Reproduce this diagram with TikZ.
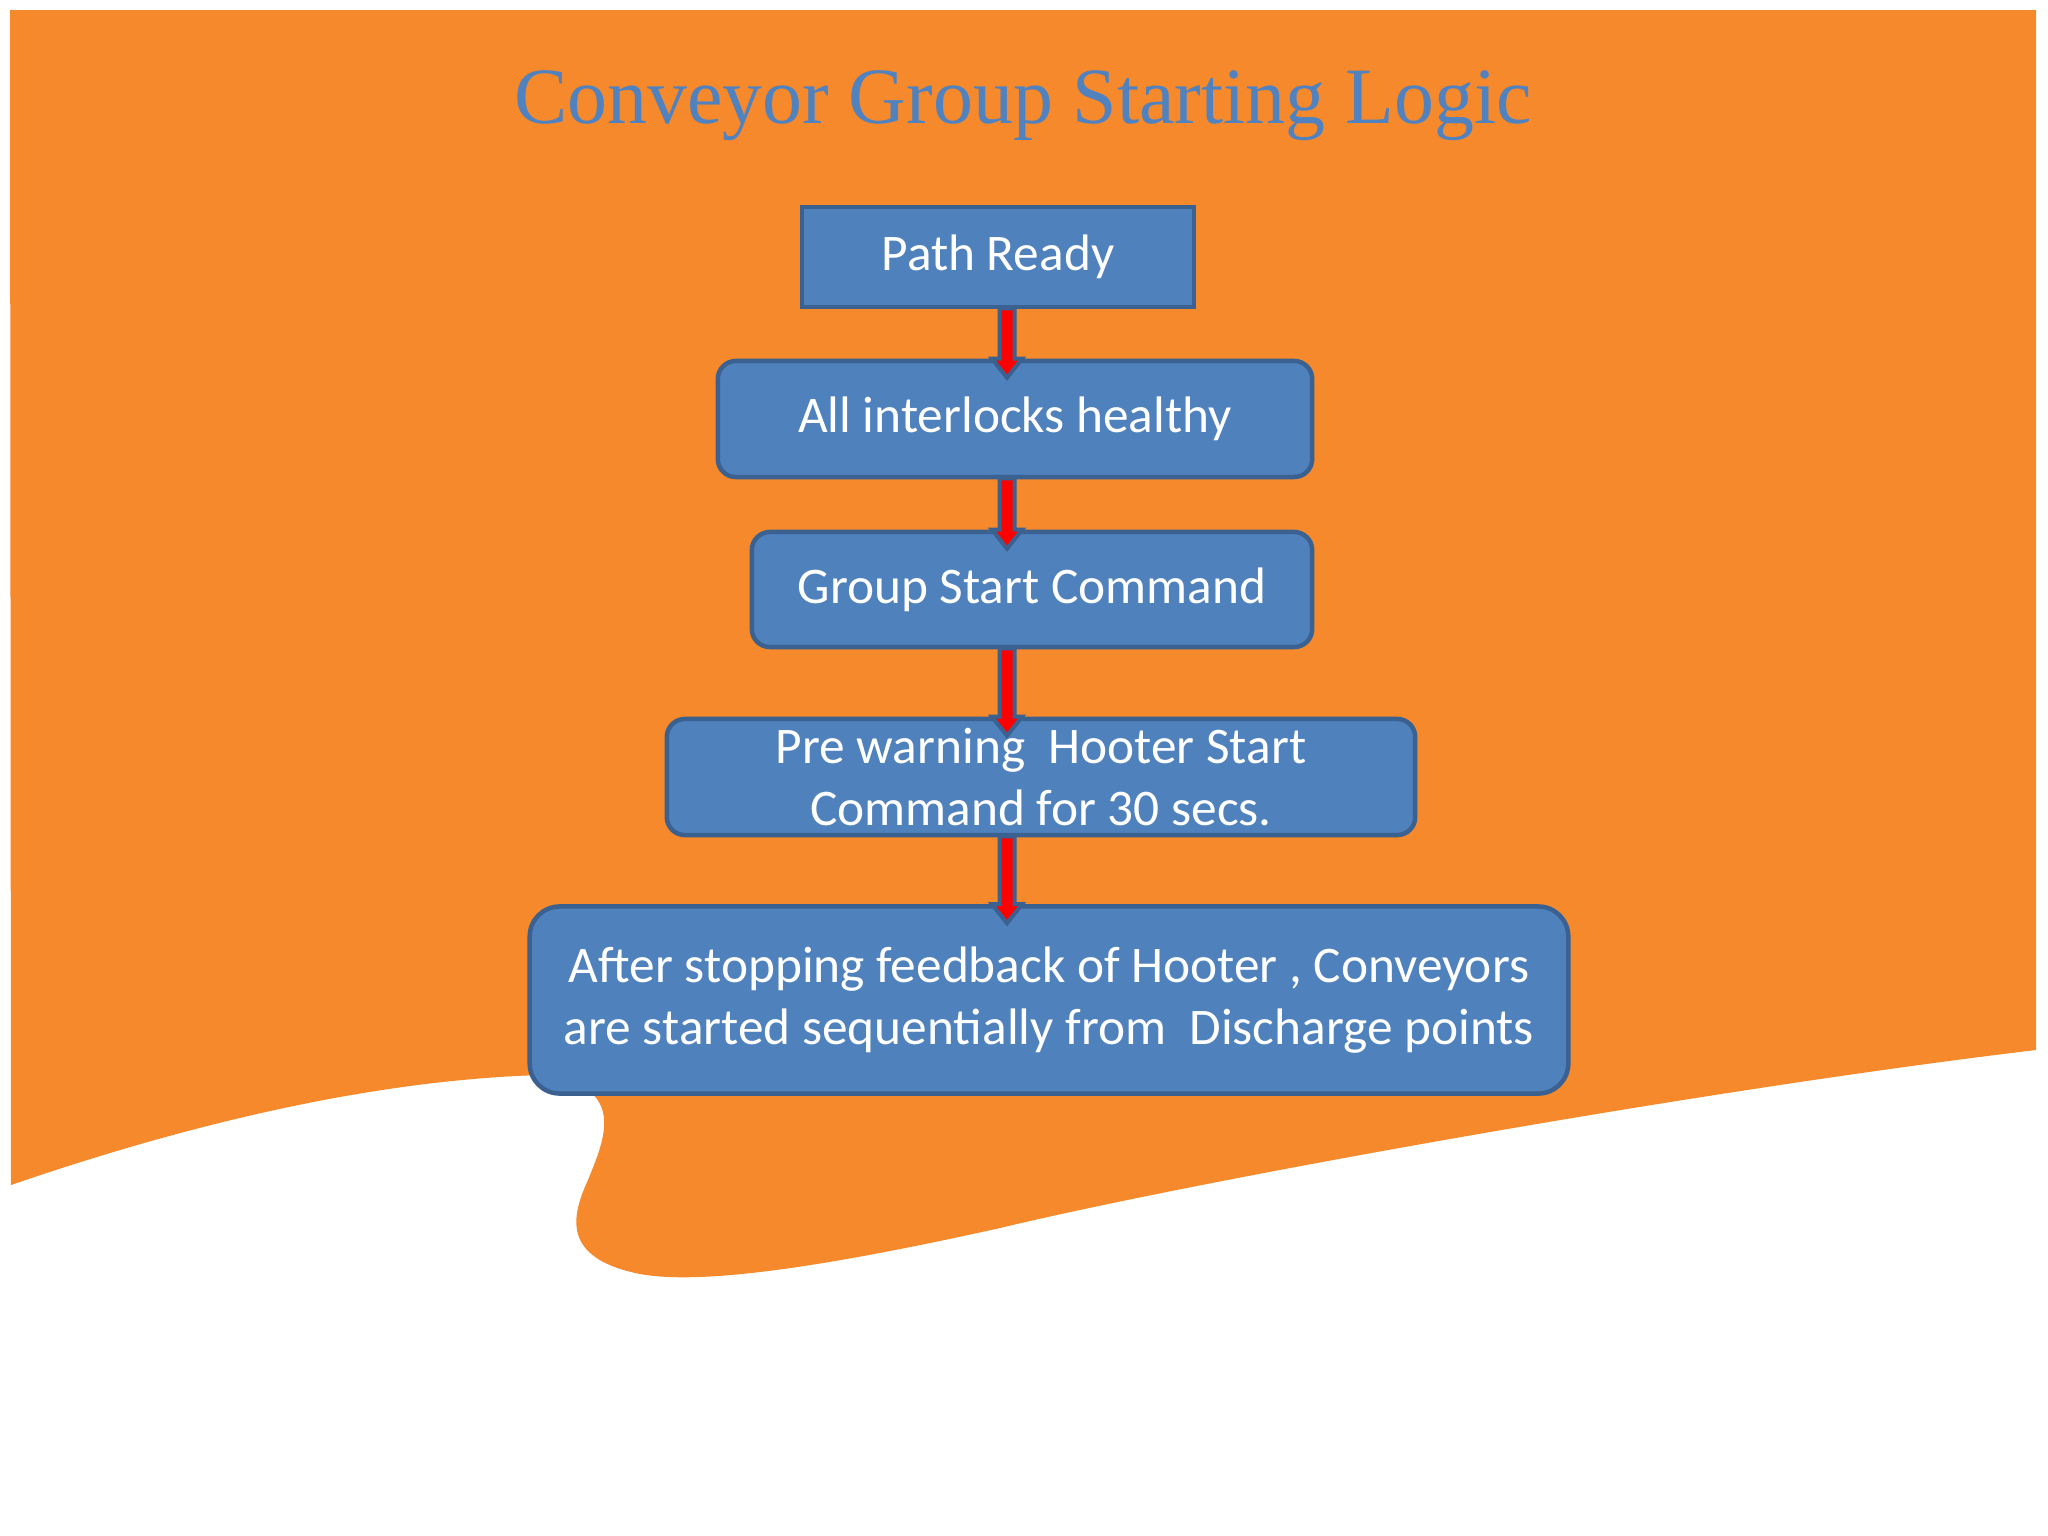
\documentclass[tikz,border=0pt]{standalone}
\usepackage{fontspec}
\setmainfont{Carlito}
\newfontfamily\titlefont{Liberation Serif}
\usetikzlibrary{calc}
\definecolor{bgorange}{HTML}{F6892B}
\definecolor{boxfill}{HTML}{4F81BD}
\definecolor{boxline}{HTML}{3A6190}
\definecolor{titleblue}{HTML}{5182C0}
\definecolor{arrred}{HTML}{FF0000}
\tikzset{
  flowbox/.style={draw=boxline, fill=boxfill, line width=0.045cm, text=white,
    align=center, inner sep=0pt,
    font=\fontsize{14.6}{17.4}\selectfont},
  flowarrow/.style={fill=arrred, draw=boxline, line width=0.04cm, line join=miter}
}
\newcommand\flowarr[2]{%
  \filldraw[flowarrow]
    ($(#1.south -| ax)+(-7.5,-1)$) -- ($(#2.north -| ax)+(-7.5,0)$)
    -- ($(#2.north -| ax)+(-15,0)$) -- ($(#2.north -| ax)+(0,19)$)
    -- ($(#2.north -| ax)+(15,0)$) -- ($(#2.north -| ax)+(7.5,0)$)
    -- ($(#1.south -| ax)+(7.5,-1)$) -- cycle;}
\begin{document}
\begin{tikzpicture}[x=0.01cm, y=-0.01cm]
\useasboundingbox (0,0) rectangle (2048,1536);
\fill[white] (0,0) rectangle (2048,1536);
% orange background with wavy lower edge
\fill[bgorange] (10,10) -- (2036,10) -- (2036,1050)
  .. controls (1700,1090) and (1200,1180) .. (1000,1228)
  .. controls (820,1268) and (700,1285) .. (640,1274)
  .. controls (560,1258) and (572,1215) .. (588,1180)
  .. controls (604,1140) and (630,1085) .. (540,1075)
  .. controls (380,1080) and (200,1120) .. (11,1185) -- cycle;
% title
\node[anchor=base, text=titleblue, inner sep=0pt,
  font=\titlefont\fontsize{22.7}{26}\selectfont] (title) at (1023,123)
  {Conveyor Group Starting Logic};
% boxes
\node[flowbox, minimum width=3.92cm, minimum height=1.00cm] (b1) at (998,257) {Path Ready};
\node[flowbox, rounded corners=0.18cm, minimum width=5.94cm, minimum height=1.16cm] (b2) at (1015,419) {All interlocks healthy};
\node[flowbox, rounded corners=0.18cm, minimum width=5.60cm, minimum height=1.15cm] (b3) at (1032,589.5) {Group Start Command};
\node[flowbox, rounded corners=0.18cm, minimum width=7.48cm, minimum height=1.16cm] (b4) at (1041,777) {Pre warning~ Hooter Start\\Command for 30 secs.};
\node[flowbox, rounded corners=0.3cm, minimum width=10.38cm, minimum height=1.87cm] (b5) at (1049,1000) {After stopping feedback of Hooter , Conveyors\\are started sequentially from~ Discharge points};
% connectors
\coordinate (ax) at (1007,0);
\flowarr{b1}{b2}
\flowarr{b2}{b3}
\flowarr{b3}{b4}
\flowarr{b4}{b5}
\end{tikzpicture}
\end{document}
